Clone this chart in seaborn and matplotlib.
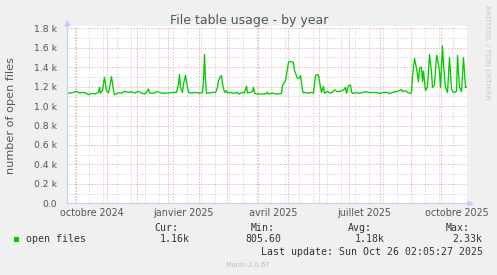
import matplotlib
matplotlib.use("Agg")
import numpy as np
import pandas as pd
import matplotlib.pyplot as plt
import matplotlib.transforms as mtransforms
from matplotlib.patches import Rectangle
import seaborn as sns

# ---------------- data ----------------
start_time = "2024-09-21 02:05"
end_time = "2025-10-26 02:05"
day_offset = [0, 3, 7, 10, 13, 17, 20, 22, 25, 28, 32, 33, 34, 36, 38, 40, 42, 45, 47, 48,
              52, 55, 58, 62, 65, 68, 72, 75, 78, 80, 82, 83, 87, 90, 93, 97, 100, 103, 107, 110,
              112, 113, 114, 116, 117, 119, 121, 122, 125, 128, 132, 134, 136, 137, 138, 139, 140, 142, 146, 149,
              151, 152, 154, 155, 156, 158, 160, 161, 164, 167, 171, 172, 176, 178, 180, 181, 184, 186, 187, 188,
              190, 194, 199, 201, 202, 206, 209, 212, 215, 216, 218, 219, 221, 222, 223, 226, 227, 228, 230, 231,
              233, 234, 236, 237, 239, 242, 245, 247, 249, 251, 252, 254, 255, 257, 258, 261, 263, 266, 268, 271,
              275, 277, 279, 280, 281, 282, 284, 285, 286, 290, 293, 296, 300, 303, 306, 310, 313, 316, 320, 323,
              326, 330, 332, 335, 336, 339, 341, 344, 345, 346, 348, 350, 352, 353, 355, 356, 357, 359, 361, 363,
              365, 366, 368, 370, 371, 373, 374, 376, 377, 379, 381, 383, 385, 387, 390, 391, 393, 395, 397, 399,
              400]
open_files = [1131, 1134, 1141, 1152, 1134, 1141, 1131, 1117, 1131, 1124, 1141, 1193, 1134, 1159, 1297, 1159, 1134, 1303, 1159, 1117,
              1138, 1134, 1152, 1141, 1148, 1134, 1152, 1134, 1124, 1141, 1176, 1134, 1131, 1148, 1141, 1131, 1134, 1134, 1141, 1141,
              1228, 1324, 1193, 1141, 1228, 1317, 1193, 1141, 1134, 1141, 1134, 1134, 1141, 1262, 1531, 1262, 1131, 1134, 1141, 1138,
              1193, 1262, 1303, 1314, 1228, 1141, 1159, 1134, 1141, 1131, 1141, 1124, 1141, 1134, 1207, 1134, 1141, 1152, 1193, 1134,
              1124, 1124, 1124, 1141, 1124, 1134, 1124, 1124, 1131, 1210, 1245, 1262, 1383, 1452, 1459, 1452, 1448, 1366, 1314, 1286,
              1290, 1314, 1159, 1134, 1141, 1131, 1141, 1134, 1314, 1324, 1314, 1193, 1141, 1203, 1131, 1152, 1134, 1141, 1166, 1148,
              1155, 1166, 1190, 1131, 1179, 1210, 1217, 1148, 1131, 1138, 1131, 1141, 1148, 1138, 1141, 1138, 1131, 1138, 1141, 1128,
              1141, 1148, 1155, 1172, 1148, 1159, 1141, 1128, 1141, 1300, 1490, 1390, 1250, 1390, 1400, 1250, 1360, 1160, 1200, 1530,
              1350, 1190, 1220, 1520, 1490, 1350, 1190, 1620, 1420, 1190, 1140, 1500, 1170, 1140, 1150, 1520, 1190, 1150, 1500, 1190,
              1200]

series_name = "open files"
title_text = "File table usage - by year"
y_label = "number of open files"
x_tick_labels = ["octobre 2024", "janvier 2025", "avril 2025", "juillet 2025", "octobre 2025"]
x_tick_label_dates = ["2024-10-16", "2025-01-16", "2025-04-16", "2025-07-16", "2025-10-16"]
y_ticks = [0, 200, 400, 600, 800, 1000, 1200, 1400, 1600, 1800]
y_tick_labels = ["0.0", "0.2 k", "0.4 k", "0.6 k", "0.8 k", "1.0 k", "1.2 k", "1.4 k", "1.6 k", "1.8 k"]
stat_names = ["Cur:", "Min:", "Avg:", "Max:"]
stat_values = ["1.16k", "805.60", "1.18k", "2.33k"]
last_update = "Last update: Sun Oct 26 02:05:27 2025"
version_text = "Munin 2.0.67"
watermark = "RRDTOOL / TOBI OETIKER"

# ---------------- build frame ----------------
t0 = pd.Timestamp(start_time)
df = pd.DataFrame({
    "time": t0 + pd.to_timedelta(day_offset, unit="D"),
    "value": open_files,
})

# ---------------- figure ----------------
sns.set_theme(style="white")
plt.rcParams["font.family"] = ["DejaVu Sans"]

W, H = 497, 275
BG = "#F0F0F0"
AX_COL = "#C9CDF2"
MAJ = "#E89090"
MIN = "#C8C8C8"
TXT = "#555555"
GREEN = "#00CC00"

fig = plt.figure(figsize=(W / 100, H / 100), dpi=100, facecolor=BG)
ax_left, ax_right, ax_top, ax_bot = 66.5, 466.5, 26.0, 203.3
ax = fig.add_axes([ax_left / W, (H - ax_bot) / H, (ax_right - ax_left) / W, (ax_bot - ax_top) / H])
ax.set_facecolor("white")

sns.lineplot(data=df, x="time", y="value", ax=ax, color=GREEN, linewidth=0.95, zorder=5)

ax.set_xlim(pd.Timestamp(start_time), pd.Timestamp(end_time))
ymax = 1800 + 2.3 / (175.0 / 1800)
ax.set_ylim(0, ymax)

# grid positions
month_starts = pd.date_range("2024-10-01", end_time, freq="MS")
minor_x = pd.date_range("2024-09-30", end_time, freq="14D")
ax.set_xticks(month_starts)
ax.set_xticks(minor_x, minor=True)
ax.set_xticklabels([])
ax.set_yticks(y_ticks)
ax.set_yticklabels(y_tick_labels)
ax.set_yticks(np.arange(100, 1800, 200), minor=True)

dot = (0, (1, 2))
ax.grid(False)
ax.grid(which="minor", color=MIN, linestyle=dot, linewidth=0.72, zorder=0)
ax.grid(which="major", color=MAJ, linestyle=dot, linewidth=0.72, zorder=1)
ax.set_axisbelow(True)

ax.tick_params(axis="x", which="major", direction="out", length=2.5, width=0.72, color=MAJ, labelbottom=False)
ax.tick_params(axis="x", which="minor", direction="out", length=2.5, width=0.72, color=MIN)
ax.tick_params(axis="y", which="major", direction="out", length=2.5, width=0.72, color=MAJ,
               labelsize=6.7, labelcolor=TXT, pad=4)
ax.tick_params(axis="y", which="minor", direction="out", length=2.5, width=0.72, color=MIN)

ax.set_xlabel("")
ax.set_ylabel("")
for s in ["top", "right"]:
    ax.spines[s].set_visible(False)
for s in ["left", "bottom"]:
    ax.spines[s].set_color(AX_COL)
    ax.spines[s].set_linewidth(0.8)
    ax.spines[s].set_zorder(6)

# axis arrows
ax.plot([1.0 + 3.5 / 400], [0], marker=">", ms=3.5, color=AX_COL, transform=ax.transAxes, clip_on=False, zorder=7)
ax.plot([0], [1.0 + 3.0 / 177.3], marker="^", ms=3.5, color=AX_COL, transform=ax.transAxes, clip_on=False, zorder=7)

# x labels at mid-month
trans = mtransforms.blended_transform_factory(ax.transData, fig.transFigure)
for lab, d in zip(x_tick_labels, x_tick_label_dates):
    ax.text(pd.Timestamp(d), 1 - 215.5 / H, lab, transform=trans, ha="center", va="baseline",
            fontsize=6.9, color=TXT)

# title, y label, watermark
fig.text(248.8 / W, 1 - 24 / H, title_text, ha="center", va="baseline", fontsize=9.0, color=TXT)
fig.text(11 / W, 1 - 115 / H, y_label, rotation=90, ha="center", va="center", fontsize=8.1, color=TXT)
fig.text(487.5 / W, 1 - 5 / H, watermark, rotation=270, ha="center", va="top", fontsize=5.3, color="#C8C8C8")

# legend area
mono = "DejaVu Sans Mono"
fig.patches.append(Rectangle((14 / W, 1 - 241.7 / H), 5.3 / W, 5 / H, transform=fig.transFigure,
                             facecolor=GREEN, edgecolor="none"))
fig.text(26 / W, 1 - 242.5 / H, series_name, ha="left", va="baseline", fontsize=7.15, family=mono, color="#333333")
name_right = [178, 275, 372, 470]
val_right = [190, 281.7, 385, 482.7]
for n, v, xn, xv in zip(stat_names, stat_values, name_right, val_right):
    fig.text(xn / W, 1 - 231 / H, n, ha="right", va="baseline", fontsize=7.15, family=mono, color="#333333")
    fig.text(xv / W, 1 - 242.5 / H, v, ha="right", va="baseline", fontsize=7.15, family=mono, color="#333333")
fig.text(482.7 / W, 1 - 255 / H, last_update, ha="right", va="baseline", fontsize=7.15, family=mono, color="#333333")
fig.text(248 / W, 1 - 266.7 / H, version_text, ha="center", va="baseline", fontsize=4.75, color="#BBBBBB")

fig.savefig("out.png", dpi=100, facecolor=BG)
